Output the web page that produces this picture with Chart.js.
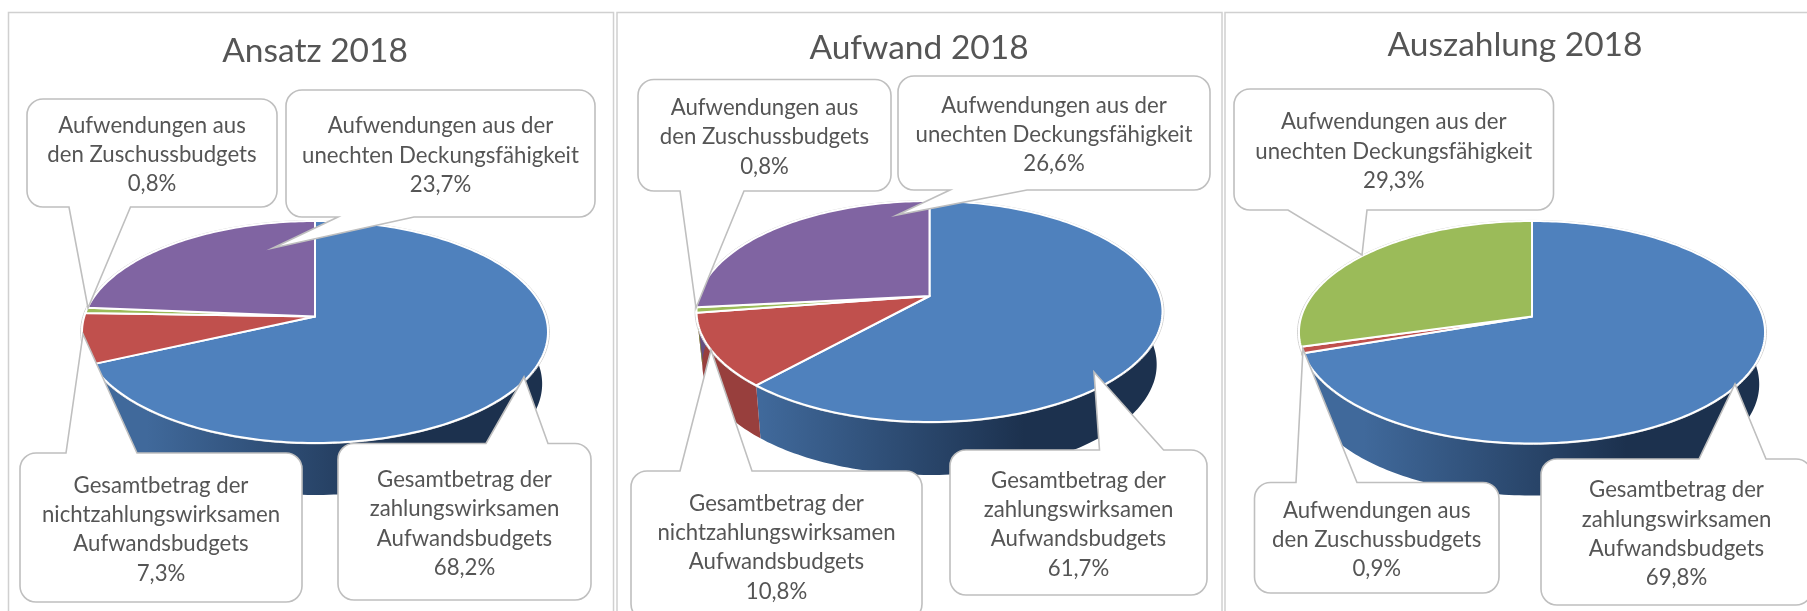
<!DOCTYPE html>
<html><head><meta charset="utf-8">
<script src="https://cdn.jsdelivr.net/npm/chart.js@4"></script>
<style>
html,body{margin:0;padding:0;background:#fff;width:1807px;height:611px;overflow:hidden}
canvas{position:absolute;top:0}
</style></head><body>
<canvas id="c0" style="left:0"></canvas>
<canvas id="c1" style="left:615px"></canvas>
<canvas id="c2" style="left:1223px"></canvas>
<script>
// ---------- data ----------
const titles = ["Ansatz 2018", "Aufwand 2018", "Auszahlung 2018"];
const ansatzLabels = [
  "Gesamtbetrag der|zahlungswirksamen|Aufwandsbudgets",
  "Gesamtbetrag der|nichtzahlungswirksamen|Aufwandsbudgets",
  "Aufwendungen aus|den Zuschussbudgets",
  "Aufwendungen aus der|unechten Deckungsfähigkeit"];
const ansatzValues = [68.2, 7.3, 0.8, 23.7];
const aufwandLabels = ansatzLabels;
const aufwandValues = [61.7, 10.8, 0.8, 26.6];
const auszahlungLabels = [
  "Gesamtbetrag der|zahlungswirksamen|Aufwandsbudgets",
  "Aufwendungen aus|den Zuschussbudgets",
  "Aufwendungen aus der|unechten Deckungsfähigkeit"];
const auszahlungValues = [69.8, 0.9, 29.3];

// ---------- style / layout ----------
const FONT = "Lato, 'Open Sans', sans-serif";
const TEXT = "#555555", LINE = "#bfbfbf";
const palette4 = ["#4f81bd", "#c0504d", "#9bbb59", "#8064a2"];
const palette3 = ["#4f81bd", "#c0504d", "#9bbb59"];
const sides = {"#4f81bd":null, "#c0504d":"#983f3d", "#9bbb59":"#7a9446", "#8064a2":"#654f81"};

const panels = [
 {labels:ansatzLabels, values:ansatzValues, colors:palette4, left:0, width:615,
  frame:[8.5,12.5,605,640], titleX:315, titleY:51,
  cx:315, cy:316.5, A:230.7, top:221, bottom:443, depth:52,
  callouts:[
   {i:2, r:[27,99,277,207], side:"b", a:69, b:130.5, tip:[88,308]},
   {i:3, r:[286,90,595,217], side:"b", a:338, b:414, tip:[273,248]},
   {i:1, r:[20,453,302,602], side:"t", a:66, b:137, tip:[83,334]},
   {i:0, r:[338,443.5,591,600], side:"t", a:486, b:548, tip:[524,377]}]},
 {labels:aufwandLabels, values:aufwandValues, colors:palette4, left:615, width:608,
  frame:[617,12.5,605,640], titleX:919, titleY:48,
  cx:929.5, cy:296, A:230.7, top:201, bottom:422, depth:53,
  callouts:[
   {i:2, r:[638,79.5,891,191], side:"b", a:680, b:744, tip:[696,308]},
   {i:3, r:[898,76,1210,190], side:"b", a:950, b:1027, tip:[897,215]},
   {i:1, r:[631,471,922,620], side:"t", a:680, b:752, tip:[711,350]},
   {i:0, r:[950,450,1207,595], side:"t", a:1099.5, b:1163.6, tip:[1094,372]}]},
 {labels:auszahlungLabels, values:auszahlungValues, colors:palette3, left:1223, width:584,
  frame:[1225,12.5,700,640], titleX:1515, titleY:45,
  cx:1532, cy:316.5, A:230.7, top:221, bottom:443.5, depth:52,
  callouts:[
   {i:2, r:[1234,89,1553.5,210], side:"b", a:1288, b:1367, tip:[1362,255]},
   {i:1, r:[1254.5,482.5,1499,593], side:"t", a:1296, b:1357, tip:[1303,349]},
   {i:0, r:[1541,459,1812,605], side:"t", a:1699, b:1766, tip:[1735,384]}]}
];

// ---------- perspective disc drawn from the library's arc angles ----------
function projector(p){
  const f = p.cy - p.top, n = p.bottom - p.cy;
  const k = (n - f) / (n + f), B = f * (1 + k);
  return (ang, depth, grow) => {
    const x = Math.cos(ang), y = Math.sin(ang), w = 1 - k * y;
    const g = grow || 1, sx = depth ? 0.975 : 1;
    return [p.cx + p.A * g * sx * x / w, p.cy + B * g * y / w + (depth || 0)];
  };
}
function samples(s, e){
  const out = [], n = Math.max(2, Math.ceil((e - s) / 0.02));
  for (let i = 0; i <= n; i++) out.push(s + (e - s) * i / n);
  return out;
}
function calloutPath(ctx, c){
  const [x0,y0,x1,y1] = c.r, r = 16;
  ctx.beginPath();
  ctx.moveTo(x0 + r, y0);
  if (c.side === "t"){ ctx.lineTo(c.a, y0); ctx.lineTo(c.tip[0], c.tip[1]); ctx.lineTo(c.b, y0); }
  ctx.arcTo(x1, y0, x1, y0 + r, r);
  ctx.arcTo(x1, y1, x1 - r, y1, r);
  if (c.side === "b"){ ctx.lineTo(c.b, y1); ctx.lineTo(c.tip[0], c.tip[1]); ctx.lineTo(c.a, y1); }
  ctx.arcTo(x0, y1, x0, y1 - r, r);
  ctx.arcTo(x0, y0, x0 + r, y0, r);
  ctx.closePath();
}
const fmt = v => v.toFixed(1).replace(".", ",") + "%";

const discPlugin = {
  id: "disc",
  beforeDatasetDraw(chart){
    const p = chart.options.plugins.disc.panel, ctx = chart.ctx;
    const arcs = chart.getDatasetMeta(0).data, proj = projector(p);
    ctx.save();
    ctx.translate(-p.left, 0);
    // side wall
    arcs.forEach((arc, i) => {
      const col = p.colors[i];
      const ang = samples(arc.startAngle, arc.endAngle);
      ctx.beginPath();
      ang.forEach((a, j) => { const q = proj(a, 0); j ? ctx.lineTo(q[0], q[1]) : ctx.moveTo(q[0], q[1]); });
      ang.slice().reverse().forEach(a => { const q = proj(a, p.depth); ctx.lineTo(q[0], q[1]); });
      ctx.closePath();
      if (sides[col]) ctx.fillStyle = sides[col];
      else {
        const g = ctx.createLinearGradient(p.cx - 0.73 * p.A, 0, p.cx + 0.41 * p.A, 0);
        g.addColorStop(0, "#40699b"); g.addColorStop(1, "#1c314e");
        ctx.fillStyle = g;
      }
      ctx.fill();
    });
    // faint outer rim
    ctx.beginPath();
    samples(-Math.PI, Math.PI).forEach((a, j) => { const q = proj(a, 0, 1.006); j ? ctx.lineTo(q[0], q[1]) : ctx.moveTo(q[0], q[1]); });
    ctx.closePath();
    ctx.strokeStyle = "#cfcfcf"; ctx.lineWidth = 1; ctx.stroke();
    // top faces
    arcs.forEach((arc, i) => {
      ctx.beginPath();
      ctx.moveTo(p.cx, p.cy);
      samples(arc.startAngle, arc.endAngle).forEach(a => { const q = proj(a, 0); ctx.lineTo(q[0], q[1]); });
      ctx.closePath();
      ctx.fillStyle = p.colors[i]; ctx.fill();
      ctx.strokeStyle = "#ffffff"; ctx.lineWidth = 2; ctx.lineJoin = "round"; ctx.stroke();
    });
    ctx.restore();
    return false;
  },
  afterDraw(chart){
    const p = chart.options.plugins.disc.panel, ctx = chart.ctx;
    ctx.save();
    ctx.translate(-p.left, 0);
    // frame
    ctx.strokeStyle = "#d0d0d0"; ctx.lineWidth = 1.5;
    ctx.strokeRect(p.frame[0], p.frame[1], p.frame[2], p.frame[3]);
    // title
    ctx.fillStyle = TEXT; ctx.textAlign = "center"; ctx.textBaseline = "middle";
    ctx.font = "33.5px " + FONT;
    ctx.fillText(chart.options.plugins.disc.title, p.titleX, p.titleY);
    // callouts
    p.callouts.forEach(c => {
      calloutPath(ctx, c);
      ctx.fillStyle = "#fff"; ctx.fill();
      ctx.strokeStyle = LINE; ctx.lineWidth = 1.6; ctx.lineJoin = "miter"; ctx.stroke();
      const lines = chart.data.labels[c.i].split("|").concat(fmt(chart.data.datasets[0].data[c.i]));
      const mx = (c.r[0] + c.r[2]) / 2, my = (c.r[1] + c.r[3]) / 2 + 2, lh = 29.3;
      ctx.fillStyle = TEXT; ctx.font = "22.2px " + FONT;
      lines.forEach((t, j) => ctx.fillText(t, mx, my + (j - (lines.length - 1) / 2) * lh));
    });
    ctx.restore();
  }
};

panels.forEach((p, n) => {
  const cv = document.getElementById("c" + n);
  cv.width = p.width; cv.height = 611;
  new Chart(cv, {
    type: "pie",
    data: { labels: p.labels, datasets: [{ data: p.values, backgroundColor: p.colors }] },
    options: {
      responsive: false, animation: false, devicePixelRatio: 1,
      plugins: { legend: {display:false}, tooltip: {enabled:false}, title:{display:false},
                 disc: { panel: p, title: titles[n] } }
    },
    plugins: [discPlugin]
  });
});
</script>
</body></html>
